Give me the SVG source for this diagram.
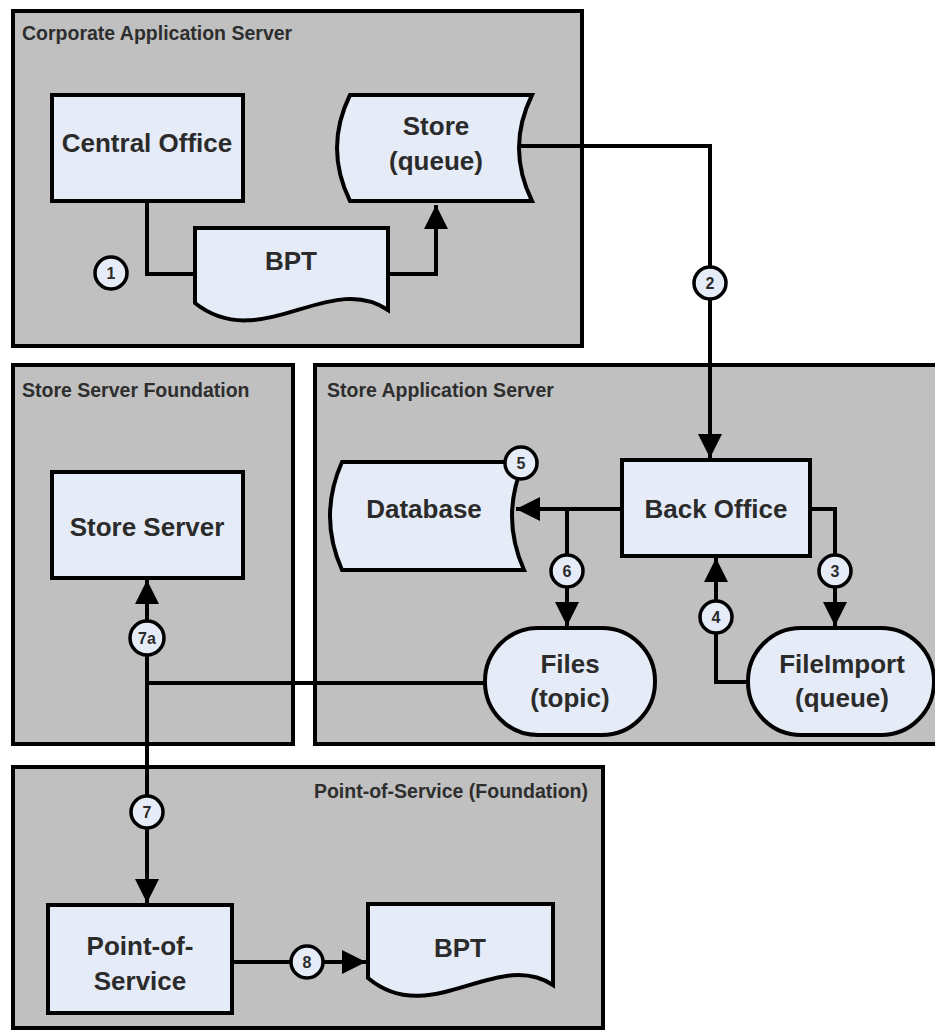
<svg xmlns="http://www.w3.org/2000/svg" width="935" height="1032" viewBox="0 0 935 1032">
<defs>
<style>
.cont{fill:#c0c0c0;stroke:#000;stroke-width:4}
.node{fill:#e6ecf7;stroke:#000;stroke-width:4}
.title{font-family:"Liberation Sans",Arial,sans-serif;font-weight:bold;font-size:19.5px;fill:#2e2e2e}
.lbl{font-family:"Liberation Sans",Arial,sans-serif;font-weight:bold;font-size:26px;fill:#2b2b2b;text-anchor:middle}
.num{font-family:"Liberation Sans",Arial,sans-serif;font-weight:bold;font-size:16px;fill:#2b2b2b;text-anchor:middle}
.badge{fill:#e6ecf7;stroke:#000;stroke-width:3.5}
.wire{fill:none;stroke:#000;stroke-width:4}
</style>
<marker id="arr" viewBox="0 0 10 10" refX="10" refY="5" markerWidth="6" markerHeight="6" markerUnits="strokeWidth" orient="auto">
<path d="M0,0 L10,5 L0,10 Z" fill="#000"/>
</marker>
</defs>
<rect width="935" height="1032" fill="#fff"/>

<g id="corporate-app-server">
<rect class="cont" x="13" y="11" width="569" height="335"/>
<text class="title" x="22" y="40">Corporate Application Server</text>
</g>
<g id="store-server-foundation">
<rect class="cont" x="13" y="365" width="280" height="379"/>
<text class="title" x="22" y="397">Store Server Foundation</text>
</g>
<g id="store-app-server">
<rect class="cont" x="315" y="365" width="630" height="379"/>
<text class="title" x="327" y="397">Store Application Server</text>
</g>
<g id="pos-foundation">
<rect class="cont" x="13" y="767" width="590" height="261"/>
<text class="title" x="588" y="798" text-anchor="end">Point-of-Service (Foundation)</text>
</g>

<g id="connectors">
<polyline class="wire" points="147,203 147,274 195,274"/>
<polyline class="wire" points="388,274 436,274 436,205" marker-end="url(#arr)"/>
<polyline class="wire" points="518,146 710,146 710,458" marker-end="url(#arr)"/>
<line class="wire" x1="622" y1="509" x2="516" y2="509" marker-end="url(#arr)"/>
<line class="wire" x1="567" y1="509" x2="567" y2="626" marker-end="url(#arr)"/>
<polyline class="wire" points="810,509 835,509 835,626" marker-end="url(#arr)"/>
<polyline class="wire" points="748,682 716,682 716,558" marker-end="url(#arr)"/>
<line class="wire" x1="485" y1="683" x2="147" y2="683"/>
<line class="wire" x1="147" y1="683" x2="147" y2="580" marker-end="url(#arr)"/>
<line class="wire" x1="147" y1="683" x2="147" y2="903" marker-end="url(#arr)"/>
<line class="wire" x1="232" y1="962" x2="366" y2="962" marker-end="url(#arr)"/>
</g>

<g id="central-office">
<rect class="node" x="52" y="95" width="191" height="106"/>
<text class="lbl" x="147" y="152">Central Office</text>
</g>
<g id="store-queue">
<path class="node" d="M350,95 H532 Q506,148 532,201 H350 Q324,148 350,95 Z"/>
<text class="lbl" x="436" y="135">Store</text>
<text class="lbl" x="436" y="170">(queue)</text>
</g>
<g id="bpt-top">
<path class="node" d="M195,228 H388 V310 C330,270 260,355 195,303 Z"/>
<text class="lbl" x="291" y="270">BPT</text>
</g>
<g id="store-server">
<rect class="node" x="52" y="472" width="191" height="106"/>
<text class="lbl" x="147" y="536">Store Server</text>
</g>
<g id="database">
<path class="node" d="M342,462 H524 Q500,516 524,570 H342 Q318,516 342,462 Z"/>
<text class="lbl" x="424" y="518">Database</text>
</g>
<g id="back-office">
<rect class="node" x="622" y="460" width="188" height="96"/>
<text class="lbl" x="716" y="518">Back Office</text>
</g>
<g id="files-topic">
<rect class="node" x="485" y="628" width="170" height="107" rx="53" ry="53"/>
<text class="lbl" x="570" y="673">Files</text>
<text class="lbl" x="570" y="707">(topic)</text>
</g>
<g id="fileimport-queue">
<rect class="node" x="748" y="628" width="186" height="107" rx="53" ry="53"/>
<text class="lbl" x="842" y="673">FileImport</text>
<text class="lbl" x="842" y="707">(queue)</text>
</g>
<g id="point-of-service">
<rect class="node" x="48" y="905" width="184" height="108"/>
<text class="lbl" x="140" y="955">Point-of-</text>
<text class="lbl" x="140" y="990">Service</text>
</g>
<g id="bpt-bottom">
<path class="node" d="M368,904 H553 V985 C497,948 430,1030 368,978 Z"/>
<text class="lbl" x="460" y="957">BPT</text>
</g>

<g id="badge-1"><circle class="badge" cx="111" cy="273" r="16"/><text class="num" x="111" y="279">1</text></g>
<g id="badge-2"><circle class="badge" cx="710" cy="283" r="16"/><text class="num" x="710" y="289">2</text></g>
<g id="badge-3"><circle class="badge" cx="835" cy="571" r="16"/><text class="num" x="835" y="577">3</text></g>
<g id="badge-4"><circle class="badge" cx="716" cy="617" r="16"/><text class="num" x="716" y="623">4</text></g>
<g id="badge-5"><circle class="badge" cx="521" cy="463" r="16"/><text class="num" x="521" y="469">5</text></g>
<g id="badge-6"><circle class="badge" cx="567" cy="571" r="16"/><text class="num" x="567" y="577">6</text></g>
<g id="badge-7a"><circle class="badge" cx="147" cy="638" r="17"/><text class="num" x="147" y="644">7a</text></g>
<g id="badge-7"><circle class="badge" cx="147" cy="812" r="16"/><text class="num" x="147" y="818">7</text></g>
<g id="badge-8"><circle class="badge" cx="307" cy="962" r="16"/><text class="num" x="307" y="968">8</text></g>
</svg>
